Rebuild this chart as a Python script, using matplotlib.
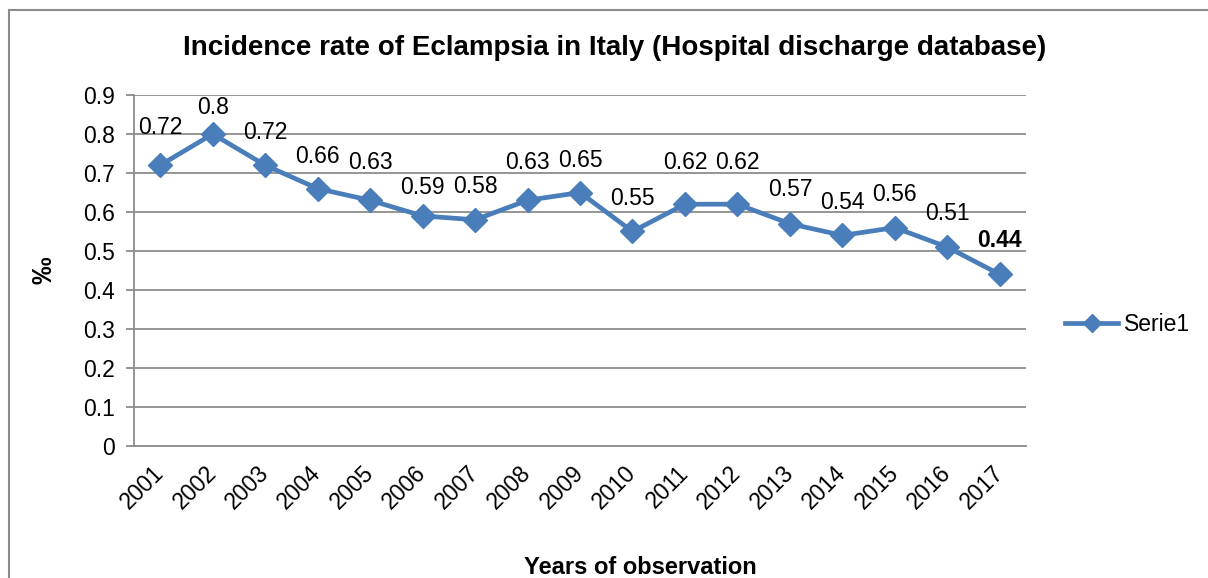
import matplotlib.pyplot as plt
from matplotlib.lines import Line2D

plt.rcParams['font.family'] = ['Liberation Sans', 'DejaVu Sans']

years = ['2001', '2002', '2003', '2004', '2005', '2006', '2007', '2008', '2009',
         '2010', '2011', '2012', '2013', '2014', '2015', '2016', '2017']
rates = [0.72, 0.80, 0.72, 0.66, 0.63, 0.59, 0.58, 0.63, 0.65,
         0.55, 0.62, 0.62, 0.57, 0.54, 0.56, 0.51, 0.44]
rate_labels = ['0.72', '0.8', '0.72', '0.66', '0.63', '0.59', '0.58', '0.63', '0.65',
               '0.55', '0.62', '0.62', '0.57', '0.54', '0.56', '0.51', '0.44']
yticks = [0, 0.1, 0.2, 0.3, 0.4, 0.5, 0.6, 0.7, 0.8, 0.9]

# how far above each point its label sits (pixels)
label_lift = [38, 26, 33, 32, 38, 28, 33, 38, 32, 33, 42, 42, 34, 33, 33, 34, 34]

blue = '#4A7EBB'
grid = '#8C8C8C'

fig = plt.figure(figsize=(12.08, 5.78), dpi=100)
ax = fig.add_axes([134 / 1208, 1 - 446 / 578, (1026 - 134) / 1208, (446 - 95) / 578])

x = list(range(len(years)))
ax.plot(x, rates, color=blue, lw=3.4, marker='D', ms=12.5, mfc=blue, mec=blue,
        label='Serie1', zorder=3)

for i in x:
    bold = (i == len(years) - 1)
    ax.annotate(rate_labels[i], (i, rates[i]), xytext=(0, label_lift[i]),
                textcoords='offset pixels', ha='center', va='center',
                fontsize=16.5, fontweight='bold' if bold else 'normal')

ax.set_xlim(-0.5, len(years) - 0.5)
ax.set_ylim(0, 0.9)
ax.set_yticks(yticks)
ax.set_yticklabels([f'{t:g}' for t in yticks], fontsize=16.5)
ax.yaxis.grid(True, color=grid, lw=1.3)
ax.set_axisbelow(True)

ax.set_xticks(x)
ax.set_xticklabels(years, fontsize=16.5, rotation=45, ha='right',
                   rotation_mode='anchor', va='center')
ax.tick_params(axis='x', length=0, pad=17)
ax.tick_params(axis='y', length=6, color=grid, width=1.3, pad=8)

for s in ['top', 'right']:
    ax.spines[s].set_visible(False)
ax.spines['left'].set_color(grid)
ax.spines['left'].set_linewidth(1.3)
ax.spines['bottom'].set_color(grid)
ax.spines['bottom'].set_linewidth(1.3)

fig.text(45 / 1208, 1 - 270 / 578, '‰', fontsize=20, fontweight='bold',
         rotation=90, ha='center', va='center')
fig.text(640 / 1208, 1 - 567 / 578, 'Years of observation', fontsize=17,
         fontweight='bold', ha='center', va='center')
fig.text(615 / 1208, 1 - 48 / 578,
         'Incidence rate of Eclampsia in Italy (Hospital discharge database)',
         fontsize=20, fontweight='bold', ha='center', va='center')

leg = ax.legend(loc='center left', bbox_to_anchor=(1.034, 0.345), frameon=False,
                fontsize=16.5, handlelength=2.3, handletextpad=0.25,
                borderaxespad=0, markerscale=0.75)

# outer chart frame (left and top edges visible)
fig.add_artist(Line2D([9 / 1208, 9 / 1208], [0, 1 - 10 / 578],
                      transform=fig.transFigure, color=grid, lw=1.5))
fig.add_artist(Line2D([9 / 1208, 1], [1 - 10 / 578, 1 - 10 / 578],
                      transform=fig.transFigure, color=grid, lw=1.5))

fig.savefig('out.png', dpi=100)
